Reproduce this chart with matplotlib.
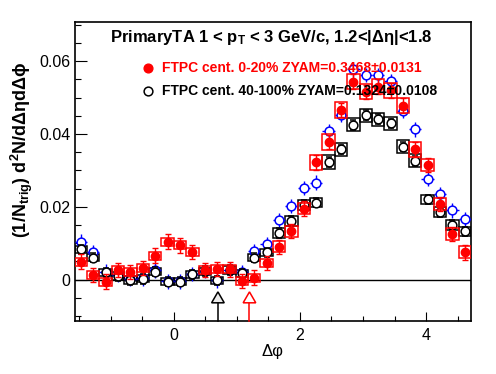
import numpy as np
import matplotlib
matplotlib.use('Agg')
import matplotlib.pyplot as plt
from matplotlib.patches import Polygon
from matplotlib.ticker import MultipleLocator, FuncFormatter

plt.rcParams['font.family'] = ['Liberation Sans', 'DejaVu Sans']
plt.rcParams['mathtext.fontset'] = 'custom'
plt.rcParams['mathtext.rm'] = 'Liberation Sans:bold'
plt.rcParams['mathtext.bf'] = 'Liberation Sans:bold'
plt.rcParams['mathtext.it'] = 'Liberation Sans:bold'
plt.rcParams['mathtext.default'] = 'bf'

# ---------------- data ----------------
n_bins = 32
phi_lo, phi_hi = -np.pi / 2, 3 * np.pi / 2

red_vals = [0.0049, 0.0012, -0.0006, 0.0026, 0.0021, 0.0032, 0.0066, 0.0104,
            0.0094, 0.0076, 0.0026, 0.0029, 0.0028, -0.0004, 0.0005, 0.0045,
            0.0090, 0.0133, 0.0195, 0.0322, 0.0378, 0.0466, 0.0544, 0.0516,
            0.0530, 0.0520, 0.0478, 0.0358, 0.0315, 0.0207, 0.0125, 0.0075]
red_err = [0.0020] * 32
red_sys = [0.0011] * 16 + [0.0015] * 3 + [0.0021] * 9 + [0.0016] * 4

black_vals = [0.0083, 0.0060, 0.0020, 0.0010, -0.0001, 0.0002, 0.0022, -0.0006,
              -0.0006, 0.0014, 0.0023, -0.0002, 0.0026, 0.0017, 0.0060, 0.0075,
              0.0128, 0.0161, 0.0205, 0.0211, 0.0323, 0.0358, 0.0425, 0.0452,
              0.0441, 0.0429, 0.0365, 0.0326, 0.0220, 0.0186, 0.0150, 0.0132]
black_err = [0.0013] * 32
black_sys = [0.0010] * 16 + [0.0013] * 4 + [0.0018] * 8 + [0.0013] * 4

blue_vals = [0.0104, 0.0076, 0.0022, 0.0012, 0.0001, 0.0003, 0.0025, -0.0005,
             -0.0005, 0.0015, 0.0024, -0.0002, 0.0027, 0.0020, 0.0079, 0.0098,
             0.0163, 0.0202, 0.0252, 0.0266, 0.0408, 0.0452, 0.0578, 0.0562,
             0.0562, 0.0546, 0.0463, 0.0413, 0.0276, 0.0234, 0.0190, 0.0166]
blue_err = [0.0020] * 32

arrow_x = [0.70, 1.20]
arrow_colors = ['black', 'red']
arrow_fill = ['#ececec', 'white']

title = r'PrimaryTA 1 < p$_{T}$ < 3 GeV/c, 1.2<|$\Delta\eta$|<1.8'
leg_red = 'FTPC cent. 0-20% ZYAM=0.3468±0.0131'
leg_black = 'FTPC cent. 40-100% ZYAM=0.1324±0.0108'
xlabel = 'Δφ'
ylabel = r'(1/N$_{trig}$) d$^{2}$N/d$\Delta\eta$d$\Delta\phi$'

# ---------------- figure ----------------
bw = (phi_hi - phi_lo) / n_bins
phi = phi_lo + bw * (np.arange(n_bins) + 0.5)
ymin, ymax = -0.0114, 0.0707

W, H = 496, 374
fig = plt.figure(figsize=(W / 100, H / 100), dpi=100)
L, R, T, B = 74.7, 471.0, 22.3, 321.0
ax = fig.add_axes([L / W, 1 - B / H, (R - L) / W, (B - T) / H])
ax.set_xlim(phi_lo, phi_hi)
ax.set_ylim(ymin, ymax)

ax.axhline(0, color='black', lw=1.0, zorder=1)

rv, bv, blv = np.array(red_vals), np.array(black_vals), np.array(blue_vals)
rs, bs = np.array(red_sys), np.array(black_sys)

# black sys boxes
ax.bar(phi, 2 * bs, bottom=bv - bs, width=bw, fill=False,
       edgecolor='black', lw=1.1, zorder=2)
# blue points
ax.errorbar(phi, blv, yerr=blue_err, xerr=bw * 0.5, fmt='o', ms=6.3,
            mfc='white', mec='#0000ff', mew=1.1, ecolor='#0000ff',
            elinewidth=1.0, capsize=0, zorder=3)
# black points
ax.errorbar(phi, bv, yerr=black_err, fmt='o', ms=6.3, mfc='white',
            mec='black', mew=1.1, ecolor='black', elinewidth=1.0,
            capsize=2.5, capthick=1.0, zorder=4)
# red sys boxes
ax.bar(phi, 2 * rs, bottom=rv - rs, width=bw, fill=False,
       edgecolor='#ff0000', lw=1.1, zorder=5)
# red points
ax.errorbar(phi, rv, yerr=red_err, fmt='o', ms=6.0, mfc='#ff0000',
            mec='#ff0000', ecolor='#ff0000', elinewidth=1.0,
            capsize=2.5, capthick=1.0, zorder=6)

# arrows
tip, base, hw = -0.0034, -0.0064, 0.10
for xa, c, f in zip(arrow_x, arrow_colors, arrow_fill):
    ax.plot([xa, xa], [ymin, base], color=c, lw=1.1, zorder=7, clip_on=False)
    ax.add_patch(Polygon([(xa - hw, base), (xa + hw, base), (xa, tip)],
                         closed=True, facecolor=f, edgecolor=c, lw=1.1, zorder=7))

# axes style
for s in ax.spines.values():
    s.set_linewidth(1.2)
ax.xaxis.set_major_locator(MultipleLocator(2))
ax.xaxis.set_minor_locator(MultipleLocator(0.5))
ax.yaxis.set_major_locator(MultipleLocator(0.02))
ax.yaxis.set_minor_locator(MultipleLocator(0.005))
fmt = FuncFormatter(lambda v, _: '0' if abs(v) < 1e-9 else f'{v:g}')
ax.xaxis.set_major_formatter(fmt)
ax.yaxis.set_major_formatter(fmt)
ax.tick_params(axis='both', which='both', direction='in', top=False, right=False,
               width=0.8, labelsize=11.5)
ax.tick_params(axis='x', which='major', length=6.3, pad=5)
ax.tick_params(axis='x', which='minor', length=3.3)
ax.tick_params(axis='y', which='major', length=8.6, pad=3)
ax.tick_params(axis='y', which='minor', length=4.3)

# texts
fig.text(271.7 / W, 1 - 42.3 / H, title, ha='center', va='baseline',
         fontsize=12.0, fontweight='bold')
ax.plot([(147.7 - L) / (R - L)], [(B - 67.7) / (B - T)], 'o', ms=6.3,
        color='#ff0000', transform=ax.transAxes, clip_on=False, zorder=8)
ax.plot([(147.7 - L) / (R - L)], [(B - 91.0) / (B - T)], 'o', ms=6.3,
        mfc='white', mec='black', mew=1.1, transform=ax.transAxes,
        clip_on=False, zorder=8)
ax.text((161.7 - L) / (R - L), (B - 72.3) / (B - T), leg_red, color='#ff0000',
        fontsize=10.0, fontweight='bold', transform=ax.transAxes,
        ha='left', va='baseline', zorder=9)
ax.text((161.7 - L) / (R - L), (B - 95.0) / (B - T), leg_black, color='black',
        fontsize=10.0, fontweight='bold', transform=ax.transAxes,
        ha='left', va='baseline', zorder=9)
fig.text(272 / W, 1 - 351.7 / H, xlabel, ha='center', va='center', fontsize=12)
fig.text(22 / W, 1 - 62 / H, ylabel, ha='center', va='top', rotation=90,
         fontsize=13.0, fontweight='bold')

fig.savefig('out.png', dpi=100)
